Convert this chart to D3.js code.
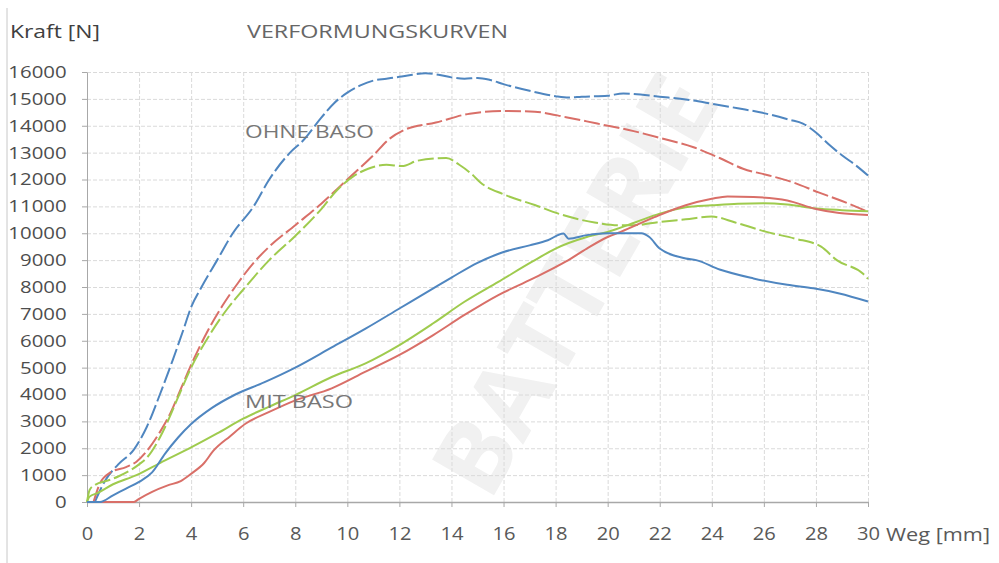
<!DOCTYPE html>
<html>
<head>
<meta charset="utf-8">
<script src="https://cdn.jsdelivr.net/npm/d3@7"></script>
<style>
  body { margin: 0; background: #fff; }
  svg { display: block; font-family: "Open Sans", sans-serif; }
</style>
</head>
<body>
<svg id="chart" width="999" height="563"></svg>
<script>
// Weg [mm] / Kraft [N]
var ohneBlau = [[0.3,0],[0.7,800],[1.2,1400],[1.8,1950],[2.3,2800],[2.8,4000],[3.3,5300],[3.7,6400],[4.0,7250],[4.4,8000],[5.0,9000],[5.6,10000],[6.4,11000],[7.0,12000],[7.8,13000],[8.3,13450],[9.0,14300],[9.5,14850],[10,15230],[10.5,15500],[11,15680],[11.5,15750],[12,15820],[12.5,15900],[13,15950],[13.5,15900],[14,15800],[14.5,15750],[15,15780],[15.5,15700],[16,15550],[17,15300],[18,15100],[18.5,15050],[19,15080],[20,15120],[20.6,15200],[21,15180],[22,15080],[23,14980],[24,14820],[25,14650],[26,14470],[27,14220],[27.5,14080],[28,13750],[28.5,13300],[29,12900],[29.5,12550],[30,12150]];
var ohneRot = [[0.25,0],[0.5,700],[0.9,1100],[1.5,1300],[1.9,1500],[2.3,1900],[2.8,2600],[3.2,3300],[3.6,4200],[4.0,5100],[4.6,6300],[5.2,7300],[5.8,8150],[6.4,8900],[7,9500],[8,10300],[9,11100],[10,12000],[11,12900],[11.6,13500],[12.2,13850],[13.4,14120],[14.7,14450],[16,14550],[17.2,14520],[18.4,14320],[19.6,14080],[21,13800],[22,13550],[23.3,13200],[24.3,12800],[25.2,12400],[26.2,12150],[27.1,11900],[28.1,11520],[29,11200],[30,10800]];
var ohneGruen = [[0,0],[0.1,450],[0.3,630],[0.8,800],[1.2,950],[1.7,1200],[2.0,1400],[2.3,1650],[2.8,2400],[3.1,3000],[3.5,3900],[4.0,5000],[4.7,6200],[5.4,7200],[6,7900],[7,9000],[8,9900],[9,10900],[9.6,11600],[10.2,12100],[10.8,12400],[11.5,12550],[12.1,12500],[12.7,12700],[13.8,12800],[14.3,12550],[14.8,12180],[15.1,11900],[16,11450],[17.2,11050],[18.2,10700],[19.5,10400],[20.4,10300],[21,10300],[22,10420],[23,10520],[24,10620],[24.9,10400],[26.1,10050],[27.2,9800],[28.2,9500],[28.8,9000],[29.8,8500],[30,8300]];
var mitBlau = [[0,0],[0.5,0],[1,250],[1.5,500],[2,750],[2.5,1100],[3,1800],[3.5,2400],[4,2900],[4.8,3500],[5.7,4000],[6.8,4450],[8,5000],[9.4,5750],[10.7,6450],[12,7200],[13.3,7950],[14,8350],[15,8900],[16,9300],[17,9550],[17.7,9740],[18.3,9990],[18.5,9800],[19.2,9930],[20,10000],[21.3,10000],[21.6,9860],[22,9430],[23,9060],[23.4,9000],[24.3,8650],[25.6,8320],[26.9,8080],[27.9,7950],[28.9,7760],[30,7460]];
var mitGruen = [[0,0],[0.1,200],[0.4,330],[1,660],[1.9,1000],[2.8,1450],[4,2030],[5,2550],[6,3100],[7,3550],[8,3980],[9.4,4650],[10.7,5160],[12,5840],[13.3,6650],[14.5,7450],[15.8,8190],[17.1,8940],[18,9430],[19.2,9860],[20,10050],[21.1,10420],[22,10730],[23,10970],[24,11040],[25,11100],[26,11120],[26.9,11070],[28,10920],[29,10860],[30,10820]];
var mitRot = [[0,0],[1.8,0],[2,120],[2.5,380],[3.1,620],[3.6,780],[4,1050],[4.5,1450],[4.85,1900],[5.5,2450],[6.1,2920],[7,3350],[8,3780],[9.4,4230],[10.7,4850],[12,5470],[13.3,6210],[14.5,6960],[15.8,7700],[17.1,8300],[18.4,8950],[19.2,9430],[20,9860],[20.5,10050],[21.8,10600],[23,11040],[24,11280],[24.6,11370],[25.6,11350],[26.9,11220],[28,10900],[28.9,10750],[30,10680]];

var xTicks = [0,2,4,6,8,10,12,14,16,18,20,22,24,26,28,30];
var yTicks = [0,1000,2000,3000,4000,5000,6000,7000,8000,9000,10000,11000,12000,13000,14000,15000,16000];

var svg = d3.select("#chart");

var x = d3.scaleLinear().domain([0, 30]).range([87, 868]);
var y = d3.scaleLinear().domain([0, 16000]).range([502, 72]);

// faint watermark behind everything
svg.append("text")
	.attr("transform", "translate(575,285) rotate(-60)")
	.attr("text-anchor", "middle")
	.attr("dy", "0.35em")
	.attr("font-size", 100)
	.attr("font-weight", "bold")
	.attr("fill", "#f1f1f1")
	.text("BATTERIE");

// left border of the screenshot
svg.append("line")
	.attr("x1", 7).attr("x2", 7)
	.attr("y1", 8).attr("y2", 563)
	.attr("stroke", "#c8c8c8");

// grid
svg.append("g")
	.attr("transform", "translate(0,502)")
	.call(d3.axisBottom(x).tickValues(xTicks).tickSize(-430).tickFormat(""))
	.call(function(g){ g.select(".domain").remove(); })
	.selectAll("line")
	.attr("stroke", "#dadada")
	.attr("stroke-dasharray", "4,2");

svg.append("g")
	.attr("transform", "translate(87,0)")
	.call(d3.axisLeft(y).tickValues(yTicks).tickSize(-781).tickFormat(""))
	.call(function(g){ g.select(".domain").remove(); })
	.selectAll("line")
	.attr("stroke", "#dadada")
	.attr("stroke-dasharray", "4,2");

// axes
var xAxis = svg.append("g")
	.attr("transform", "translate(0,502)")
	.call(d3.axisBottom(x).tickValues(xTicks).tickSize(5).tickSizeOuter(0).tickPadding(20));
xAxis.select(".domain").attr("stroke", "#a8a8a8").attr("stroke-width", 1.5);
xAxis.selectAll("line").attr("stroke", "#a8a8a8");
xAxis.selectAll("text")
	.attr("font-family", "Open Sans")
	.attr("font-size", 18)
	.attr("fill", "#595959")
	.attr("transform", "scale(1.12,1)");

var yAxis = svg.append("g")
	.attr("transform", "translate(87,0)")
	.call(d3.axisLeft(y).tickValues(yTicks).tickSize(5).tickSizeOuter(0).tickPadding(12).tickFormat(d3.format("d")));
yAxis.select(".domain").attr("stroke", "#a8a8a8");
yAxis.selectAll("line").attr("stroke", "#a8a8a8");
yAxis.selectAll("text")
	.attr("font-family", "Open Sans")
	.attr("font-size", 17)
	.attr("fill", "#4d4d4d")
	.attr("transform", "scale(1.2,1)");

// curves
var line = d3.line()
	.x(function(d){ return x(d[0]); })
	.y(function(d){ return y(d[1]); })
	.curve(d3.curveMonotoneX);

var series = [
	{data: ohneBlau, color: "#4f86c0", dash: "16,4"},
	{data: ohneRot, color: "#d96f68", dash: "16,4"},
	{data: ohneGruen, color: "#9fcb4e", dash: "16,4"},
	{data: mitGruen, color: "#9fcb4e", dash: null},
	{data: mitRot, color: "#d96f68", dash: null},
	{data: mitBlau, color: "#4f86c0", dash: null}
];

series.forEach(function(s){
	svg.append("path")
		.datum(s.data)
		.attr("fill", "none")
		.attr("stroke", s.color)
		.attr("stroke-width", 2)
		.attr("stroke-linejoin", "round")
		.attr("stroke-dasharray", s.dash)
		.attr("d", line);
});

// labels
function label(txt, px, py, size, len, color){
	svg.append("text")
		.attr("x", px).attr("y", py)
		.attr("font-size", size)
		.attr("fill", color)
		.attr("textLength", len)
		.attr("lengthAdjust", "spacingAndGlyphs")
		.text(txt);
}
label("Kraft [N]", 10, 38, 19, 90, "#404040");
label("VERFORMUNGSKURVEN", 247, 38, 19, 261, "#666666");
label("OHNE BASO", 245, 138, 19, 129, "#777777");
label("MIT BASO", 245, 408, 19, 108, "#777777");
label("Weg [mm]", 886, 541, 19, 104, "#595959");
</script>
</body>
</html>
